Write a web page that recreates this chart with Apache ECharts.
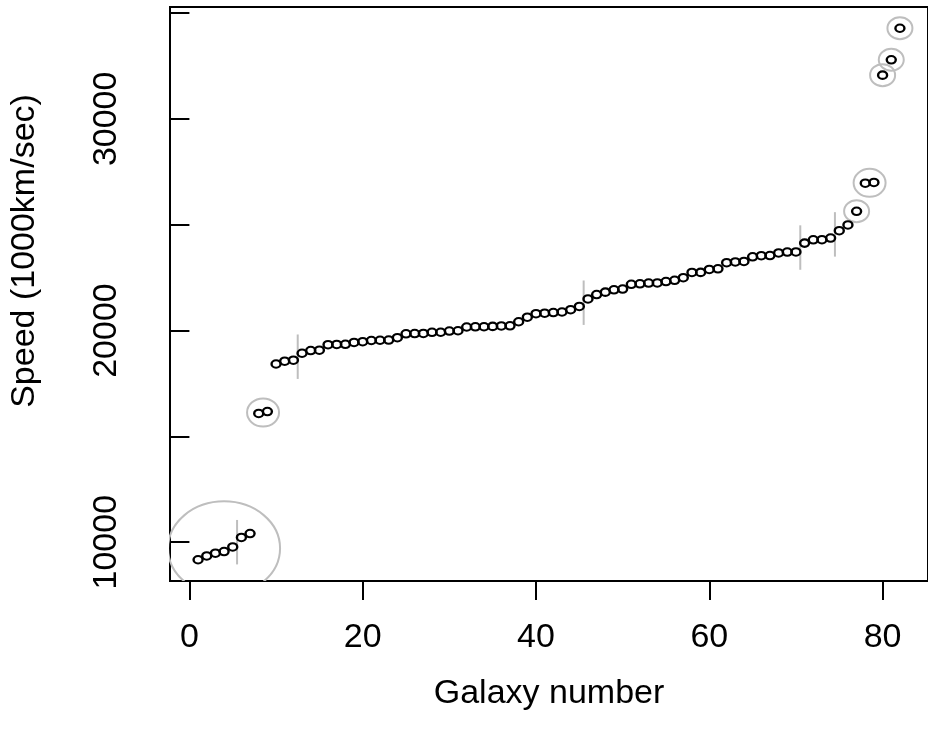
<!DOCTYPE html>
<html><head><meta charset="utf-8">
<script src="https://cdn.jsdelivr.net/npm/echarts@6/dist/echarts.min.js"></script>
<style>html,body{margin:0;padding:0;background:#fff}#c{width:928px;height:730px}</style>
</head><body><div id="c"></div>
<script>
// Galaxy speeds (sorted), galaxy numbers
const galaxyNo = [1,2,3,4,5,6,7,8,9,10,11,12,13,14,15,16,17,18,19,20,21,22,23,24,25,26,27,28,29,30,31,32,33,34,35,36,37,38,39,40,41,42,43,44,45,46,47,48,49,50,51,52,53,54,55,56,57,58,59,60,61,62,63,64,65,66,67,68,69,70,71,72,73,74,75,76,77,78,79,80,81,82];
const speed = [9172,9350,9483,9558,9775,10227,10406,16084,16170,18419,18552,18600,18927,19052,19070,19330,19343,19349,19440,19473,19529,19541,19547,19663,19846,19856,19863,19914,19918,19973,19989,20166,20175,20179,20196,20215,20221,20415,20629,20795,20821,20846,20875,20986,21137,21492,21701,21814,21921,21960,22185,22209,22242,22249,22314,22374,22495,22746,22747,22888,22914,23206,23241,23263,23484,23538,23542,23666,23706,23711,24129,24285,24289,24366,24717,24990,25633,26960,26995,32065,32789,34279];
const xTicks = [0,20,40,60,80];
const yTicks = [10000,15000,20000,25000,30000,35000];
const yLabels = [10000,20000,30000];
// vertical separators between galaxy k and k+1
const breakAfter = [5,12,45,70,74];
// groups of galaxies that are ringed
const ringGroups = [[1,2,3,4,5,6,7],[8,9],[77],[78,79],[80],[81],[82]];

// ---- styles / sizes ----
const FONT = 'Liberation Sans, Arial, Helvetica, sans-serif';
const ringSize = {7:[112,94], 2:[32,28], 1:[25,22]};
const sepHalf = 1050;
const grey = '#bebebe';

const pts = galaxyNo.map((g,i)=>[g, speed[i]]);
const rings = ringGroups.map(gr=>{
  const xs = gr.reduce((a,g)=>a+g,0)/gr.length;
  const ys = gr.reduce((a,g)=>a+speed[g-1],0)/gr.length;
  return [xs, ys, gr.length];
});
const seps = breakAfter.map(k=>[k+0.5, (speed[k-1]+speed[k])/2]);

const xmin = 1 - 0.04*81, xmax = 82 + 0.04*81;
const yr = speed[81]-speed[0];
const ymin = speed[0]-0.04*yr, ymax = speed[81]+0.04*yr;

const chart = echarts.init(document.getElementById('c'));
chart.setOption({
  animation:false,
  backgroundColor:'#fff',
  grid:{left:169, top:7, width:766, height:574, show:true, borderColor:'#000', borderWidth:2, backgroundColor:'transparent'},
  xAxis:{type:'value', min:xmin, max:xmax,
    name:'Galaxy number', nameLocation:'middle', nameGap:96,
    nameTextStyle:{fontFamily:FONT, fontSize:34, color:'#000'},
    axisLine:{show:false}, splitLine:{show:false},
    axisTick:{show:true, length:19, customValues:xTicks, lineStyle:{color:'#000', width:2}},
    axisLabel:{show:true, customValues:xTicks, margin:40, fontFamily:FONT, fontSize:34, color:'#000', formatter:v=>String(v)}
  },
  yAxis:{type:'value', min:ymin, max:ymax,
    name:'Speed (1000km/sec)', nameLocation:'middle', nameGap:128, nameRotate:90,
    nameTextStyle:{fontFamily:FONT, fontSize:34, color:'#000', padding:[0,0,0,86]},
    axisLine:{show:false}, splitLine:{show:false},
    axisTick:{show:true, length:19, customValues:yTicks, lineStyle:{color:'#000', width:2}},
    axisLabel:{show:true, customValues:yLabels, rotate:90, margin:46, fontFamily:FONT, fontSize:34, color:'#000', formatter:v=>String(v)}
  },
  series:[
    {type:'custom', clip:true, data:seps, silent:true,
      renderItem(params, api){
        const x = api.value(0), y = api.value(1);
        const p1 = api.coord([x, y-sepHalf]), p2 = api.coord([x, y+sepHalf]);
        return {type:'line', shape:{x1:p1[0],y1:p1[1],x2:p2[0],y2:p2[1]}, style:{stroke:grey, lineWidth:2}};
      }},
    {type:'custom', clip:true, data:rings, silent:true,
      renderItem(params, api){
        const c = api.coord([api.value(0), api.value(1)]);
        const s = ringSize[api.value(2)];
        return {type:'ellipse', shape:{cx:c[0], cy:c[1], rx:s[0]/2, ry:s[1]/2}, style:{fill:'none', stroke:grey, lineWidth:2}};
      }},
    {type:'scatter', data:pts, symbol:'circle', symbolSize:[9,7.5],
      itemStyle:{color:'rgba(0,0,0,0)', borderColor:'#000', borderWidth:2.2, opacity:1}}
  ]
});
</script></body></html>
